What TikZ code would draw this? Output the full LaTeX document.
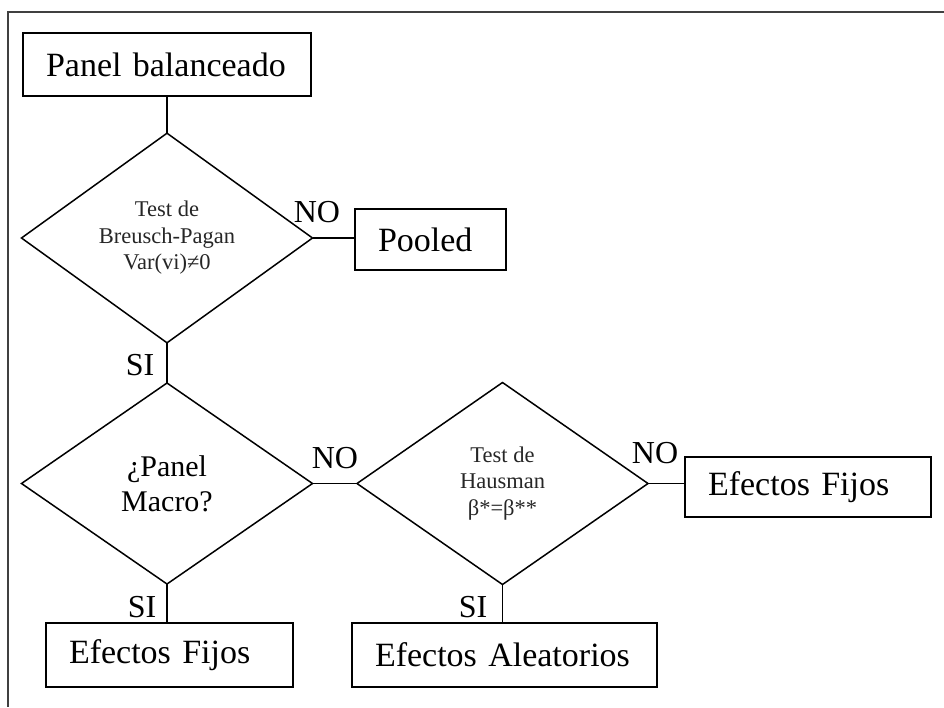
\documentclass[tikz,border=0pt]{standalone}
\usepackage{fontspec}
\setmainfont{Liberation Serif}
\usetikzlibrary{shapes.geometric}
\tikzset{
  boxnode/.style={draw, line width=1.6pt, inner xsep=23pt, inner ysep=0pt, outer sep=0pt, align=left, font=\fontsize{34}{40}\selectfont},
  decnode/.style={draw, diamond, line width=1.5pt, inner sep=0pt, outer sep=0pt, minimum width=291pt, align=center},
  smalltext/.style={font=\fontsize{22.5}{26.5}\selectfont, text=black!85},
  lbl/.style={inner sep=0pt, font=\fontsize{32}{36}\selectfont},
  conn/.style={line width=1.5pt}
}
\begin{document}
\begin{tikzpicture}[x=1pt,y=-1pt]
\useasboundingbox (0,0) rectangle (944,707);
\draw[line width=1.2pt, black!75] (944,12) -- (8,12) -- (8,707);

\node[boxnode, text width=242pt, minimum height=63pt] (pb) at (167,64.5) {Panel balanceado};
\node[decnode, smalltext, minimum height=202pt] (d1) at (167,238) {Test de\\Breusch-Pagan\\Var(vi)≠0};
\node[boxnode, text width=105pt, minimum height=61pt] (pooled) at (430.5,239.5) {Pooled};
\node[decnode, font=\fontsize{30}{35}\selectfont, minimum height=201pt] (d2) at (167,483.5) {¿Panel\\Macro?};
\node[decnode, smalltext, minimum height=202pt] (d3) at (502.5,483.5) {Test de\\Hausman\\β*=β**};
\node[boxnode, text width=200pt, minimum height=60pt] (ef1) at (808,487) {Efectos Fijos};
\node[boxnode, text width=201pt, minimum height=64pt] (ef2) at (169.5,655) {Efectos Fijos};
\node[boxnode, text width=259pt, minimum height=64pt] (ea) at (504.5,655) {Efectos Aleatorios};

\draw[conn] (pb.south) -- (d1.north);
\draw[conn] (d1.east) -- (d1.east -| pooled.west);
\draw[conn] (d1.south) -- (d2.north);
\draw[conn] (d2.east) -- (d3.west);
\draw[conn] (d3.east) -- (d3.east -| ef1.west);
\draw[conn] (d2.south) -- (d2.south |- ef2.north);
\draw[conn] (d3.south) -- (d3.south |- ea.north);

\node[lbl] (no1) at (317,212) {NO};
\node[lbl] (no2) at (335,458) {NO};
\node[lbl] (no3) at (655,453) {NO};
\node[lbl] (si1) at (140,365) {SI};
\node[lbl] (si2) at (142,607) {SI};
\node[lbl] (si3) at (473,607) {SI};
\end{tikzpicture}
\end{document}
